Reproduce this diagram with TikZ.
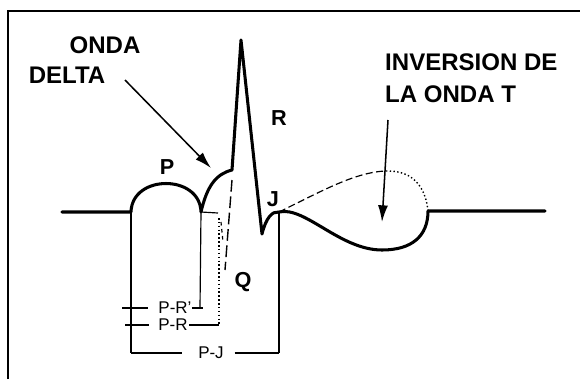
\documentclass[tikz,border=0pt]{standalone}
\usepackage{fontspec}
\setmainfont{Liberation Sans}
\usetikzlibrary{arrows.meta}

\tikzset{
  wave/.style={line width=2.6pt, line join=round, line cap=round},
  guide/.style={line width=1pt},
  biglabel/.style={font=\fontsize{20.5}{27}\selectfont\bfseries, inner sep=0pt},
  wavelabel/.style={font=\fontsize{18.5}{20}\selectfont\bfseries, inner sep=0pt},
  dimlabel/.style={font=\fontsize{14.5}{16}\selectfont, inner sep=0pt},
  pointer/.style={line width=1.3pt, -{Latex[length=5mm,width=3mm]}}
}

\begin{document}
\begin{tikzpicture}[x=0.03cm,y=-0.03cm]
\useasboundingbox (0,0) rectangle (580,379);

% frame
\draw[line width=1pt] (8,379) -- (8,11) -- (580,11);

% named points of the trace
\coordinate (pstart) at (131,212);
\coordinate (pend) at (201,212);
\coordinate (rtop) at (241,40);
\coordinate (jpt) at (279,212);
\coordinate (tend) at (428,211);

% trace
\draw[wave] (62,212) -- (pstart)
  .. controls (132,174) and (200,174) .. (pend)
  .. controls (207,186) and (216,174) .. (232,170)
  -- (rtop) -- (262,234)
  .. controls (266,218) and (272,211) .. (jpt)
  .. controls (305,206) and (340,250) .. (382,250)
  .. controls (412,250) and (428,236) .. (tend)
  -- (545,211);

% T wave, normal shape
\draw[line width=1pt, dash pattern=on 6pt off 3pt] (jpt)
  .. controls (320,192) and (355,172) .. (386,171);
\draw[line width=1.2pt, dotted] (386,171)
  .. controls (415,170) and (426,190) .. (tend);

% normal QRS onset
\draw[line width=1.2pt, dash pattern=on 10pt off 4pt] (232,180) -- (225,270);
\draw[line width=1pt, dash pattern=on 3pt off 3pt] (221,222) -- (223,242);
\draw[guide] (pend) -- (218,213);

% guides
\draw[guide] (pstart) -- (131,353);
\draw[guide] (pend) -- (200,308);
\draw[guide] (jpt) -- (279,353);
\draw[line width=1.3pt, dotted] (219,218) -- (219,325);

% intervals
\node[dimlabel] (prp) at (175,308) {P-R'};
\draw[guide] (122,308) -- ([xshift=-9pt]prp.west);
\draw[guide] (prp.east) -- (203,308);

\node[dimlabel] (pr) at (173,325) {P-R};
\draw[guide] (125,325) -- ([xshift=-8pt]pr.west);
\draw[guide] ([xshift=1pt]pr.east) -- (219,325);

\node[dimlabel] (pj) at (211,353) {P-J};
\draw[guide] (131,353) -- ([xshift=-14pt]pj.west);
\draw[guide] ([xshift=9pt]pj.east) -- (279,353);

% wave labels
\node[wavelabel] (plbl) at (167,167) {P};
\node[wavelabel] (rlbl) at (279,118) {R};
\node[wavelabel] (jlbl) at (273,199) {J};
\node[wavelabel] (qlbl) at (243,282) {Q};

% delta wave
\node[biglabel] (onda) at (105,45) {ONDA};
\node[biglabel] (delta) at (67,75) {DELTA};
\coordinate (deltatail) at (125,80);
\coordinate (deltahead) at (211,168);
\draw[pointer] (deltatail) -- (deltahead);

% T inversion
\node[biglabel, align=left, anchor=west] (tinv) at (385,78) {INVERSION DE\\LA ONDA T};
\coordinate (ttail) at (388,120);
\coordinate (thead) at (382,222);
\draw[pointer] (ttail) -- (thead);
\end{tikzpicture}
\end{document}
